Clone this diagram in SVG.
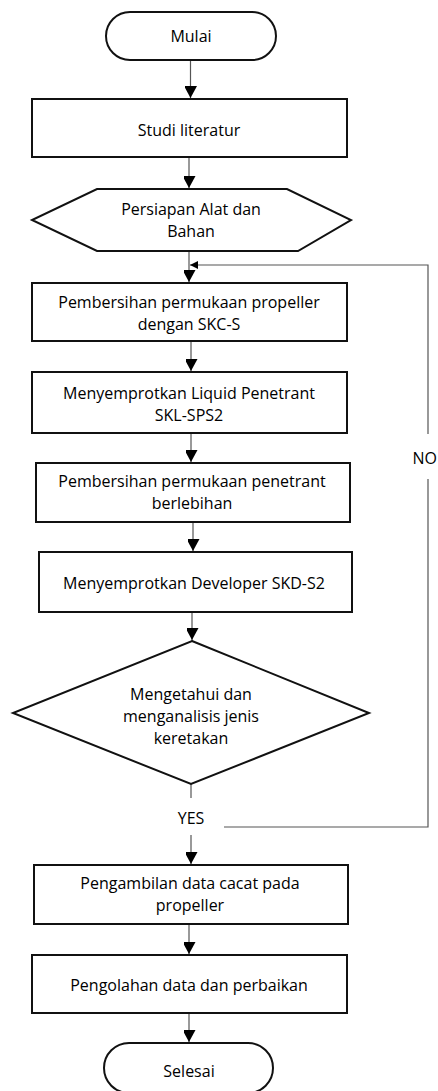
<svg xmlns="http://www.w3.org/2000/svg" width="438" height="1091" viewBox="0 0 438 1091">
<defs>
<style>
.box{fill:#fff;stroke:#111;stroke-width:2}
.ln{fill:none;stroke:#555;stroke-width:1.2}
.t{font-family:"Open Sans","Liberation Sans",sans-serif;font-size:16px;fill:#000;text-anchor:middle}
</style>
<marker id="ah" viewBox="0 0 13 12" refX="13" refY="6.5" markerWidth="13" markerHeight="12" markerUnits="userSpaceOnUse" orient="auto">
<path d="M0,0 L12,6.5 L0,13 Z" fill="#000"/>
</marker>
<marker id="ahs" viewBox="0 0 8 8" refX="8" refY="4" markerWidth="8" markerHeight="8" markerUnits="userSpaceOnUse" orient="auto">
<path d="M0,0 L8,4 L0,8 Z" fill="#000"/>
</marker>
</defs>
<rect width="438" height="1091" fill="#fff"/>
<g id="connectors">
<line class="ln" x1="190.5" y1="60" x2="190.5" y2="99" marker-end="url(#ah)"/>
<line class="ln" x1="189" y1="157" x2="189" y2="189" marker-end="url(#ah)"/>
<line class="ln" x1="189" y1="251" x2="189" y2="283" marker-end="url(#ah)"/>
<polyline class="ln" points="224,827 428,827 428,479"/>
<polyline class="ln" points="428,434 428,265 190,265" marker-end="url(#ahs)"/>
<line class="ln" x1="191" y1="341" x2="191" y2="372" marker-end="url(#ah)"/>
<line class="ln" x1="191" y1="433" x2="191" y2="463" marker-end="url(#ah)"/>
<line class="ln" x1="193" y1="522" x2="193" y2="552" marker-end="url(#ah)"/>
<line class="ln" x1="192" y1="612" x2="192" y2="641" marker-end="url(#ah)"/>
<line class="ln" x1="191" y1="784" x2="191" y2="798"/>
<line class="ln" x1="191" y1="835" x2="191" y2="865" marker-end="url(#ah)"/>
<line class="ln" x1="189" y1="924" x2="189" y2="955" marker-end="url(#ah)"/>
<line class="ln" x1="189" y1="1013" x2="189" y2="1043" marker-end="url(#ah)"/>
<text class="t" x="191" y="824">YES</text>
<text class="t" x="437" y="464" style="text-anchor:end">NO</text>
</g>
<g id="mulai">
<rect class="box" x="106" y="12" width="170" height="48" rx="24" ry="24"/>
<text class="t" x="191" y="42">Mulai</text>
</g>
<g id="studi">
<rect class="box" x="32" y="99" width="315" height="58"/>
<text class="t" x="189" y="136">Studi literatur</text>
</g>
<g id="persiapan">
<polygon class="box" points="97,189 287,189 351,220 298,251 97,251 32,220"/>
<text class="t" x="191" y="215">Persiapan Alat dan</text>
<text class="t" x="191" y="237">Bahan</text>
</g>
<g id="pembersihan1">
<rect class="box" x="32" y="283" width="315" height="58"/>
<text class="t" x="189" y="308">Pembersihan permukaan propeller</text>
<text class="t" x="189" y="330">dengan SKC-S</text>
</g>
<g id="liquid">
<rect class="box" x="32" y="372" width="315" height="61"/>
<text class="t" x="189" y="399">Menyemprotkan Liquid Penetrant</text>
<text class="t" x="189" y="421">SKL-SPS2</text>
</g>
<g id="pembersihan2">
<rect class="box" x="36" y="463" width="314" height="59"/>
<text class="t" x="192" y="487">Pembersihan permukaan penetrant</text>
<text class="t" x="192" y="509">berlebihan</text>
</g>
<g id="developer">
<rect class="box" x="39" y="552" width="313" height="60"/>
<text class="t" x="194" y="589">Menyemprotkan Developer SKD-S2</text>
</g>
<g id="mengetahui">
<polygon class="box" points="192,641 369,713 191,784 13,713"/>
<text class="t" x="191" y="700">Mengetahui dan</text>
<text class="t" x="191" y="722">menganalisis jenis</text>
<text class="t" x="191" y="744">keretakan</text>
</g>
<g id="pengambilan">
<rect class="box" x="34" y="865" width="314" height="59"/>
<text class="t" x="190" y="889">Pengambilan data cacat pada</text>
<text class="t" x="190" y="911">propeller</text>
</g>
<g id="pengolahan">
<rect class="box" x="32" y="955" width="315" height="58"/>
<text class="t" x="189" y="991">Pengolahan data dan perbaikan</text>
</g>
<g id="selesai">
<rect class="box" x="104" y="1043" width="169" height="50" rx="25" ry="25"/>
<text class="t" x="189" y="1077">Selesai</text>
</g>
</svg>
